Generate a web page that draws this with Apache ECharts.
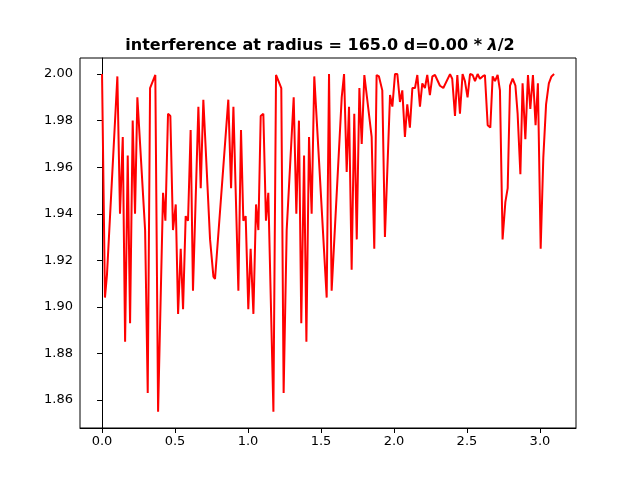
<!DOCTYPE html>
<html><head><meta charset="utf-8">
<script src="https://cdn.jsdelivr.net/npm/echarts@6/dist/echarts.min.js"></script>
<style>html,body{margin:0;padding:0;background:#fff}#c{width:640px;height:480px}</style>
</head><body><div id="c"></div>
<script>
const xs=[0,0.02,0.034,0.105,0.123,0.142,0.158,0.176,0.192,0.21,0.226,0.242,0.295,0.313,0.329,0.365,0.384,0.418,0.434,0.452,0.468,0.486,0.505,0.521,0.539,0.555,0.573,0.589,0.607,0.623,0.66,0.676,0.694,0.74,0.763,0.774,0.865,0.884,0.9,0.934,0.952,0.968,0.984,1.002,1.018,1.037,1.055,1.071,1.087,1.105,1.123,1.139,1.174,1.192,1.228,1.244,1.265,1.313,1.331,1.349,1.365,1.384,1.4,1.418,1.436,1.454,1.539,1.555,1.573,1.642,1.658,1.676,1.692,1.71,1.728,1.745,1.763,1.779,1.797,1.847,1.865,1.881,1.897,1.92,1.938,1.973,1.989,2.007,2.023,2.041,2.057,2.075,2.091,2.109,2.126,2.144,2.16,2.178,2.194,2.212,2.228,2.246,2.263,2.281,2.315,2.338,2.384,2.399,2.418,2.434,2.452,2.47,2.486,2.504,2.521,2.539,2.555,2.573,2.589,2.607,2.623,2.642,2.66,2.676,2.692,2.71,2.726,2.744,2.763,2.779,2.795,2.813,2.832,2.847,2.866,2.881,2.9,2.918,2.934,2.952,2.97,2.986,3.005,3.023,3.042,3.061,3.079,3.097];
const ys=[2.0,1.904,1.914,1.999,1.94,1.973,1.885,1.965,1.893,1.98,1.94,1.99,1.933,1.863,1.994,1.9996,1.855,1.949,1.937,1.983,1.982,1.933,1.944,1.897,1.925,1.899,1.939,1.937,1.976,1.907,1.986,1.951,1.989,1.929,1.913,1.912,1.989,1.951,1.986,1.907,1.976,1.937,1.939,1.899,1.925,1.897,1.944,1.933,1.982,1.983,1.937,1.949,1.855,1.9996,1.994,1.863,1.933,1.99,1.94,1.98,1.893,1.965,1.885,1.973,1.94,1.999,1.904,2.0,1.907,1.99,2.0,1.958,1.986,1.916,1.983,1.929,1.994,1.97,1.9996,1.973,1.925,1.9996,1.999,1.993,1.93,1.991,1.986,2.0,2.0,1.988,1.993,1.973,1.987,1.977,1.994,1.994,1.9996,1.986,1.996,1.994,1.9996,1.991,1.999,1.9996,1.995,1.994,2.0,1.998,1.982,1.9996,1.983,2.0,1.997,1.99,2.0,1.9996,1.997,2.0,1.998,1.999,1.9996,1.978,1.977,1.999,1.997,1.9996,1.993,1.929,1.945,1.951,1.995,1.998,1.995,1.983,1.957,1.996,1.972,1.9996,1.985,1.9996,1.978,1.996,1.925,1.964,1.987,1.996,1.999,2.0];
const xTicks=[0,0.5,1,1.5,2,2.5,3];
const yTicks=[1.86,1.88,1.90,1.92,1.94,1.96,1.98,2.00];
const font='DejaVu Sans';
const chart=echarts.init(document.getElementById('c'));
chart.setOption({
  animation:false,
  title:{text:'{a|interference at radius = 165.0 d=0.00 * }{b|λ}{a|/2}',left:'center',top:33,
    textStyle:{rich:{a:{fontFamily:font,fontSize:16,color:'#000'},b:{fontFamily:font,fontSize:16,fontStyle:'italic',color:'#000'}}}},
  grid:{left:80,right:64,top:58,bottom:52,show:true,borderColor:'#000',borderWidth:1},
  xAxis:{type:'value',min:-0.151,max:3.247,
    axisLine:{show:true,onZero:false,lineStyle:{color:'#000'}},
    axisTick:{show:true,length:5,customValues:xTicks,lineStyle:{color:'#000'}},
    axisLabel:{customValues:xTicks,fontFamily:font,fontSize:13,color:'#000',margin:7,formatter:v=>v.toFixed(1)},
    splitLine:{show:false}},
  yAxis:{type:'value',min:1.848,max:2.0069,
    axisLine:{show:true,lineStyle:{color:'#000'}},
    axisTick:{show:true,length:5,customValues:yTicks,lineStyle:{color:'#000'}},
    axisLabel:{customValues:yTicks,fontFamily:font,fontSize:13,color:'#000',margin:7,formatter:v=>v.toFixed(2)},
    splitLine:{show:false}},
  series:[{type:'line',data:xs.map((x,i)=>[x,ys[i]]),showSymbol:false,lineStyle:{color:'#ff0000',width:2},itemStyle:{color:'#ff0000'}}]
});
</script></body></html>
